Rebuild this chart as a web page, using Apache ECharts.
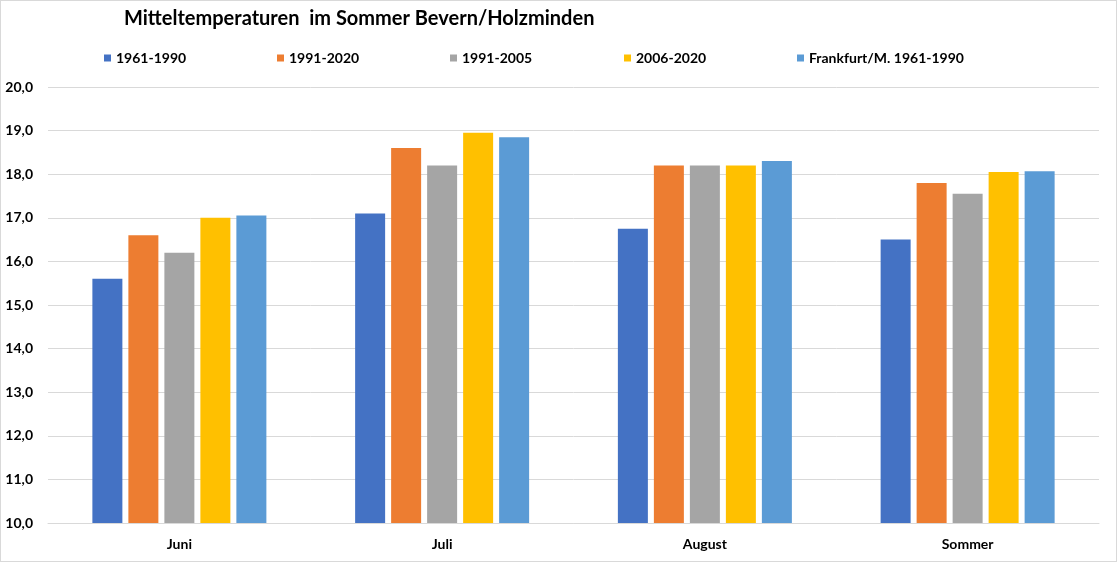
<!DOCTYPE html>
<html>
<head>
<meta charset="utf-8">
<script src="https://cdn.jsdelivr.net/npm/echarts@6/dist/echarts.min.js"></script>
<style>
html,body{margin:0;padding:0;background:#fff;}
#frame{width:1117px;height:562px;box-sizing:border-box;border:1px solid #d9d9d9;position:relative;}
#chart{position:absolute;left:-1px;top:-1px;width:1117px;height:562px;}
</style>
</head>
<body>
<div id="frame"><div id="chart"></div></div>
<script>
const categories = ['Juni', 'Juli', 'August', 'Sommer'];
const seriesNames = ['1961-1990', '1991-2020', '1991-2005', '2006-2020', 'Frankfurt/M. 1961-1990'];
const s1961_1990 = [15.6, 17.1, 16.75, 16.5];
const s1991_2020 = [16.6, 18.6, 18.2, 17.8];
const s1991_2005 = [16.2, 18.2, 18.2, 17.55];
const s2006_2020 = [17.0, 18.95, 18.2, 18.05];
const sFrankfurt = [17.05, 18.85, 18.3, 18.07];
const colors = ['#4472C4', '#ED7D31', '#A5A5A5', '#FFC000', '#5B9BD5'];
const legendLefts = [104, 277, 450, 624, 797];
const allValues = [s1961_1990, s1991_2020, s1991_2005, s2006_2020, sFrankfurt];

const FONT = 'Lato';
const chart = echarts.init(document.getElementById('chart'));
const legends = seriesNames.map((n, i) => ({
  data: [n],
  left: legendLefts[i],
  top: 51,
  padding: 0,
  itemWidth: 7,
  itemHeight: 7,
  icon: 'rect',
  itemGap: 0,
  selectedMode: false,
  textStyle: { fontFamily: FONT, fontWeight: 'bold', fontSize: 14, color: '#000', padding: [0, 0, 0, 0] }
}));
chart.setOption({
  animation: false,
  color: colors,
  title: {
    text: 'Mitteltemperaturen  im Sommer Bevern/Holzminden',
    left: 124, top: 9, padding: 0,
    textStyle: { fontFamily: FONT, fontWeight: 'bold', fontSize: 20, color: '#000' }
  },
  legend: legends,
  grid: { left: 48, right: 18, top: 87, bottom: 39, containLabel: false },
  xAxis: {
    type: 'category',
    data: categories,
    axisTick: { show: false },
    axisLine: { lineStyle: { color: '#d9d9d9', width: 1 } },
    axisLabel: { fontFamily: FONT, fontWeight: 'bold', fontSize: 14, color: '#000', margin: 14 }
  },
  yAxis: {
    type: 'value',
    min: 10, max: 20, interval: 1,
    axisLine: { show: false },
    axisTick: { show: false },
    splitLine: { lineStyle: { color: '#d9d9d9', width: 1 } },
    axisLabel: {
      fontFamily: FONT, fontWeight: 'bold', fontSize: 14, color: '#000', margin: 15,
      formatter: v => v.toFixed(1).replace('.', ',')
    }
  },
  series: seriesNames.map((n, i) => ({
    name: n,
    type: 'bar',
    data: allValues[i],
    barWidth: 30,
    barGap: '20%',
    barCategoryGap: '34%',
    itemStyle: { color: colors[i] }
  }))
});
</script>
</body>
</html>
